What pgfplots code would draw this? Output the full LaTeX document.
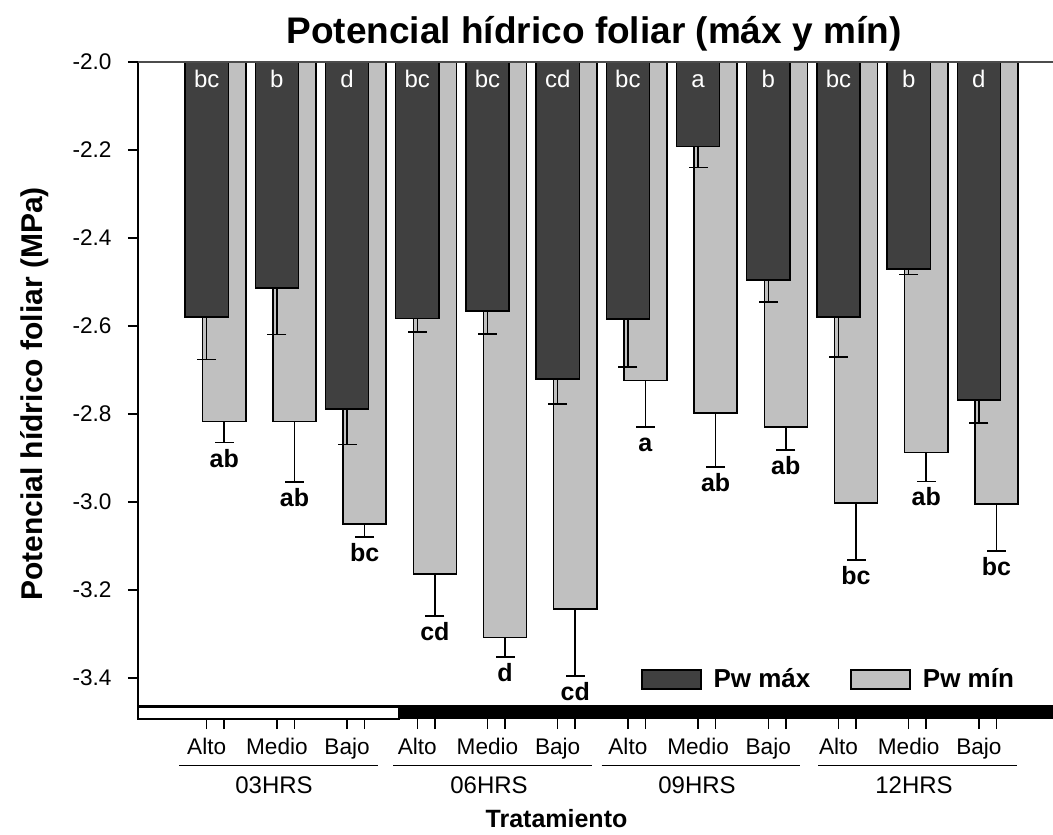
\documentclass[border=0pt]{standalone}
\usepackage{fontspec}
\setmainfont{Liberation Sans}
\usepackage{pgfplots}
\usepackage{pgfplotstable}
\pgfplotsset{compat=1.18}
\definecolor{barDark}{HTML}{404040}
\definecolor{barLight}{HTML}{C0C0C0}

% Pw max (dark) and Pw min (light): mean and SE, MPa
\pgfplotstableread{
x  y      err
1  -2.579 0.097
2  -2.514 0.105
3  -2.789 0.080
4  -2.583 0.031
5  -2.566 0.052
6  -2.720 0.057
7  -2.584 0.109
8  -2.192 0.048
9  -2.495 0.050
10 -2.579 0.092
11 -2.470 0.013
12 -2.768 0.053
}\pwmax
\pgfplotstableread{
x  y      err
1  -2.817 0.048
2  -2.817 0.137
3  -3.050 0.030
4  -3.164 0.095
5  -3.308 0.044
6  -3.243 0.152
7  -2.724 0.106
8  -2.798 0.123
9  -2.830 0.052
10 -3.002 0.130
11 -2.887 0.066
12 -3.005 0.106
}\pwmin

\tikzset{px/.style={x=0.5pt, y=-0.5pt, shift={(-138,-706)}}}
\pgfplotsset{
  boxlegend/.style={legend image code/.code={\draw[##1] (0pt,-4.75pt) rectangle (29.5pt,4.75pt);}},
  barstyle/.style={ybar, bar width=0.615, bar shift=0pt, fill=#1, draw=black, line width=0.75pt, boxlegend,
    error bars/.cd, y dir=minus, y explicit,
    error bar style={black, line width=0.75pt},
    error mark options={rotate=90, black, mark size=4.75pt, line width=0.75pt}},
}

\begin{document}
\begin{tikzpicture}
\begin{axis}[
    scale only axis, width=457.5pt, height=322pt,
    xmin=0.0214, xmax=13.056, ymin=-3.4636, ymax=-2.0,
    axis x line=bottom, axis y line=left,
    axis line style={-, line width=0.75pt},
    tick align=outside, major tick length=5pt,
    tick style={black, line width=0.75pt},
    xtick={1,1.25,2,2.25,3,3.25,4,4.25,5,5.25,6,6.25,7,7.25,8,8.25,9,9.25,10,10.25,11,11.25,12,12.25},
    xticklabels={Alto,{},Medio,{},Bajo,{},Alto,{},Medio,{},Bajo,{},Alto,{},Medio,{},Bajo,{},Alto,{},Medio,{},Bajo,{}},
    xtick style={yshift=-6.5pt},
    xticklabel shift=7.7pt,
    ytick={-3.4,-3.2,-3.0,-2.8,-2.6,-2.4,-2.2,-2.0},
    yticklabel shift=4.7pt,
    yticklabel style={/pgf/number format/.cd, fixed, fixed zerofill, precision=1},
    /pgf/number format/assume math mode=true,
    tick label style={font=\fontsize{11.3}{13}\selectfont},
    legend style={draw=none, fill=none, at={(0.5494,0.0411)}, anchor=west,
        inner sep=0pt, font=\bfseries\fontsize{13}{15}\selectfont,
        /tikz/every odd column/.append style={column sep=4pt},
        /tikz/every even column/.append style={column sep=18pt}},
    legend columns=2, reverse legend,
]
\addplot[barstyle=barLight] table[x expr=\thisrow{x}+0.25, y=y, y error=err] {\pwmin};
\addlegendentry{Pw mín}
\addplot[barstyle=barDark] table[x=x, y=y, y error=err] {\pwmax};
\addlegendentry{Pw máx}

% letters inside the dark bars
\begin{scope}[every node/.style={anchor=base, text=white, inner sep=0pt, font=\fontsize{12}{14}\selectfont}]
\node at (axis cs:1,-2.057) {bc};
\node at (axis cs:2,-2.057) {b};
\node at (axis cs:3,-2.057) {d};
\node at (axis cs:4,-2.057) {bc};
\node at (axis cs:5,-2.057) {bc};
\node at (axis cs:6,-2.057) {cd};
\node at (axis cs:7,-2.057) {bc};
\node at (axis cs:8,-2.057) {a};
\node at (axis cs:9,-2.057) {b};
\node at (axis cs:10,-2.057) {bc};
\node at (axis cs:11,-2.057) {b};
\node at (axis cs:12,-2.057) {d};
\end{scope}
% letters below the light bars
\begin{scope}[every node/.style={anchor=base, inner sep=0pt, yshift=-12.25pt, font=\bfseries\fontsize{12.5}{14}\selectfont}]
\node at (axis cs:1.25,-2.865) {ab};
\node at (axis cs:2.25,-2.954) {ab};
\node at (axis cs:3.25,-3.080) {bc};
\node at (axis cs:4.25,-3.259) {cd};
\node at (axis cs:5.25,-3.352) {d};
\node at (axis cs:6.25,-3.395) {cd};
\node at (axis cs:7.25,-2.830) {a};
\node at (axis cs:8.25,-2.921) {ab};
\node at (axis cs:9.25,-2.882) {ab};
\node at (axis cs:10.25,-3.132) {bc};
\node at (axis cs:11.25,-2.953) {ab};
\node at (axis cs:12.25,-3.111) {bc};
\end{scope}
\end{axis}

\begin{scope}[px]
  \draw[black!70, line width=0.6pt] (138,62) -- (1060,62);
  % light / dark period strip
  \fill[black] (399,707) rectangle (1060,719);
  \draw[line width=0.75pt, fill=white] (138,707) rectangle (399,719);
  % group underlines and names
  \draw[line width=0.75pt] (179,765.7) -- (377.7,765.7);
  \draw[line width=0.75pt] (393.3,765.7) -- (591.7,765.7);
  \draw[line width=0.75pt] (601.7,765.7) -- (800.3,765.7);
  \draw[line width=0.75pt] (818.3,765.7) -- (1016.7,765.7);
  \begin{scope}[every node/.style={anchor=base, inner sep=0pt, font=\fontsize{12}{14}\selectfont}]
    \node at (274,793) {03HRS};
    \node at (489,793) {06HRS};
    \node at (697,793) {09HRS};
    \node at (914,793) {12HRS};
  \end{scope}
  \node[anchor=base, inner sep=0pt, font=\bfseries\fontsize{18.5}{22}\selectfont] at (594,44) {Potencial hídrico foliar (máx y mín)};
  \node[rotate=90, inner sep=0pt, font=\bfseries\fontsize{15}{18}\selectfont] at (35,394) {Potencial hídrico foliar (MPa)};
  \node[anchor=base, inner sep=0pt, font=\bfseries\fontsize{12.5}{15}\selectfont] at (556.5,827) {Tratamiento};
\end{scope}
\pgfresetboundingbox
\begin{scope}[px]
  \path (0,0) rectangle (1053,834);
\end{scope}
\end{tikzpicture}
\end{document}
